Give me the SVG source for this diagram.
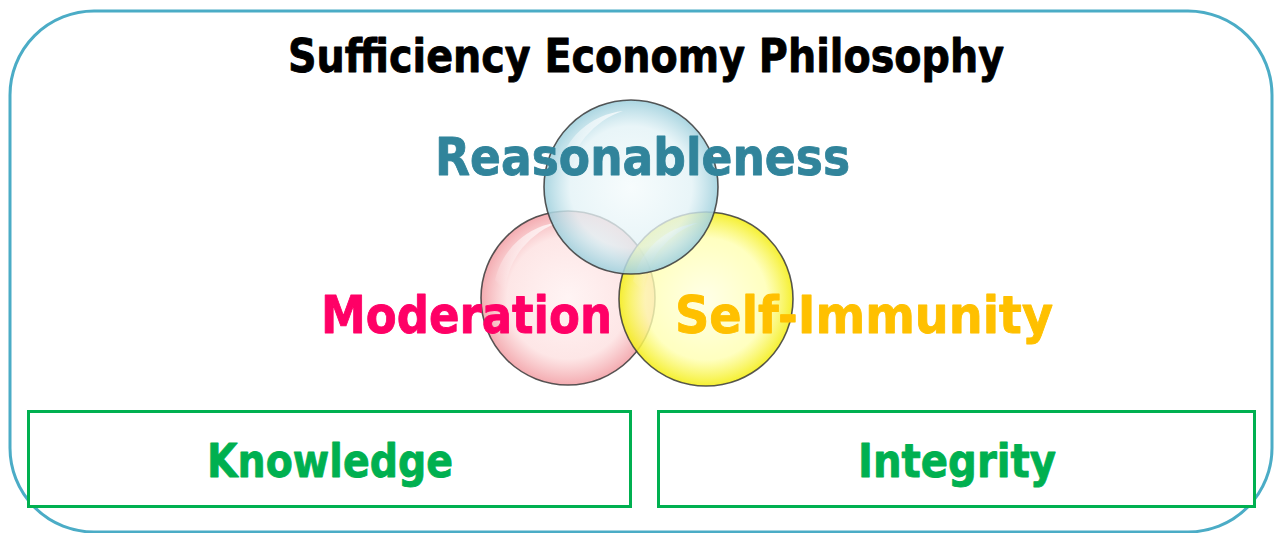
<svg xmlns="http://www.w3.org/2000/svg" width="1275" height="533" viewBox="0 0 1275 533">
  <style>
    .lbl { font-family: "DejaVu Sans", Verdana, sans-serif; font-weight: bold; stroke-width: 0.9; stroke-linejoin: round; }
    .frame { fill: #ffffff; stroke: #4BACC6; stroke-width: 3; }
    .box { fill: #ffffff; stroke: #00B050; stroke-width: 3; }
    .bubble { stroke: #3a3a3a; stroke-width: 1.6; stroke-opacity: 0.85; }
    .shine { fill: url(#shine); }
  </style>
  <defs>
    <radialGradient id="gBlue" cx="50%" cy="50%" r="50%">
      <stop offset="0" stop-color="#f4fbfc" stop-opacity="0.75"/>
      <stop offset="0.7" stop-color="#e2f2f6" stop-opacity="0.78"/>
      <stop offset="1" stop-color="#9fd0dd" stop-opacity="0.88"/>
    </radialGradient>
    <radialGradient id="gPink" cx="50%" cy="50%" r="50%">
      <stop offset="0" stop-color="#fff1f1" stop-opacity="0.78"/>
      <stop offset="0.7" stop-color="#fde0e0" stop-opacity="0.8"/>
      <stop offset="1" stop-color="#f2a0a6" stop-opacity="0.88"/>
    </radialGradient>
    <radialGradient id="gYellow" cx="50%" cy="50%" r="50%">
      <stop offset="0" stop-color="#ffffe0" stop-opacity="0.78"/>
      <stop offset="0.7" stop-color="#ffffb0" stop-opacity="0.8"/>
      <stop offset="1" stop-color="#f4ee1c" stop-opacity="0.9"/>
    </radialGradient>
    <linearGradient id="shine" x1="0" y1="0" x2="0" y2="1">
      <stop offset="0" stop-color="#ffffff" stop-opacity="0.9"/>
      <stop offset="1" stop-color="#ffffff" stop-opacity="0"/>
    </linearGradient>
  </defs>

  <g id="frame">
    <rect class="frame" x="10" y="11" width="1262" height="521" rx="84" ry="84"/>
  </g>

  <g id="title">
    <text class="lbl" x="288" y="72" font-size="47" fill="#000000" stroke="#000000" textLength="716" lengthAdjust="spacingAndGlyphs">Sufficiency Economy Philosophy</text>
  </g>

  <g id="circle-moderation">
    <circle class="bubble" cx="568" cy="298" r="87" fill="url(#gPink)"/>
    <path class="shine" d="M495,280 A75,75 0 0 1 560,222 A80,80 0 0 0 505,290 Z" opacity="0.8"/>
  </g>
  <g id="circle-self-immunity">
    <circle class="bubble" cx="706" cy="299" r="87" fill="url(#gYellow)"/>
    <path class="shine" d="M633,281 A75,75 0 0 1 698,223 A80,80 0 0 0 643,291 Z" opacity="0.8"/>
  </g>
  <g id="circle-reasonableness">
    <circle class="bubble" cx="631" cy="187" r="87" fill="url(#gBlue)"/>
    <path class="shine" d="M558,169 A75,75 0 0 1 623,111 A80,80 0 0 0 568,179 Z" opacity="0.8"/>
  </g>

  <g id="reasonableness">
    <text class="lbl" x="435" y="175" font-size="52" fill="#31849B" stroke="#31849B" textLength="415" lengthAdjust="spacingAndGlyphs">Reasonableness</text>
  </g>
  <g id="moderation">
    <text class="lbl" x="321" y="333" font-size="52" fill="#FF0066" stroke="#FF0066" textLength="291" lengthAdjust="spacingAndGlyphs">Moderation</text>
  </g>
  <g id="self-immunity">
    <text class="lbl" x="675" y="333" font-size="52" fill="#FFC000" stroke="#FFC000" textLength="378" lengthAdjust="spacingAndGlyphs">Self-Immunity</text>
  </g>

  <g id="knowledge">
    <rect class="box" x="28.5" y="411.5" width="602" height="95"/>
    <text class="lbl" x="207" y="477" font-size="46" fill="#00B050" stroke="#00B050" textLength="246" lengthAdjust="spacingAndGlyphs">Knowledge</text>
  </g>
  <g id="integrity">
    <rect class="box" x="658.5" y="411.5" width="596" height="95"/>
    <text class="lbl" x="858" y="477" font-size="46" fill="#00B050" stroke="#00B050" textLength="198" lengthAdjust="spacingAndGlyphs">Integrity</text>
  </g>

  <g id="connectors"/>
</svg>
